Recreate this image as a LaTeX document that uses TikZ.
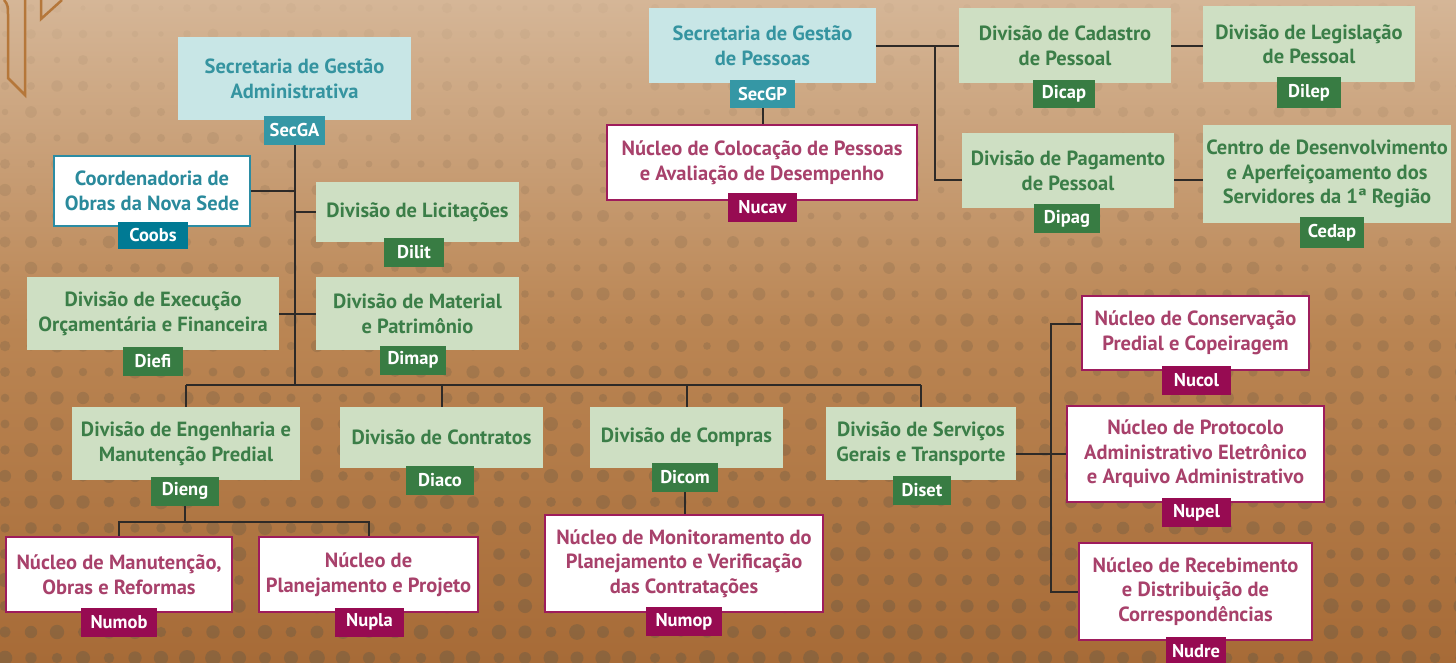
\documentclass[tikz,border=0pt]{standalone}
\usepackage{fontspec}
\setmainfont{PT Sans}
\definecolor{cyanF}{HTML}{C8E6E6}
\definecolor{cyanT}{HTML}{3594A0}
\definecolor{cyanTag}{HTML}{3597A5}
\definecolor{greenF}{HTML}{CEDFC3}
\definecolor{greenT}{HTML}{3B7E48}
\definecolor{greenTag}{HTML}{387C43}
\definecolor{magB}{HTML}{9E1C5C}
\definecolor{magT}{HTML}{A8416B}
\definecolor{magTag}{HTML}{970B52}
\definecolor{tealB}{HTML}{2B8CA3}
\definecolor{tealT}{HTML}{2A8A9C}
\definecolor{tealTag}{HTML}{007A94}
\definecolor{lineC}{HTML}{2E2A27}
\definecolor{decoC}{HTML}{B5773A}
\definecolor{dotC}{HTML}{6E5C44}
\definecolor{bgA}{HTML}{EDE4DA}
\definecolor{bgB}{HTML}{D5B697}
\definecolor{bgC}{HTML}{BA8553}
\definecolor{bgD}{HTML}{A76B37}
\definecolor{bgE}{HTML}{9E622F}
\pgfdeclareverticalshading{bgshade}{100bp}{color(0bp)=(bgE); color(25bp)=(bgD); color(50bp)=(bgC); color(75bp)=(bgB); color(100bp)=(bgA)}
\pgfdeclarelayer{bglayer}
\pgfdeclarelayer{lineslayer}
\pgfsetlayers{bglayer,lineslayer,main}
\newcommand\boxfont{\bfseries\fontsize{20.5}{24.5}\selectfont}
\newcommand\tagfont{\bfseries\fontsize{18.5}{20}\selectfont}
\tikzset{
  box/.style={inner sep=0pt, align=center, font=\boxfont},
  cyanbox/.style={box, fill=cyanF, text=cyanT},
  greenbox/.style={box, fill=greenF, text=greenT},
  nucbox/.style={box, fill=white, draw=magB, line width=2pt, text=magT},
  coobsbox/.style={box, fill=white, draw=tealB, line width=2pt, text=tealT},
  tag/.style={inner sep=0pt, minimum height=29pt, text=white, font=\tagfont},
  cyantag/.style={tag, fill=cyanTag},
  greentag/.style={tag, fill=greenTag},
  magtag/.style={tag, fill=magTag},
  tealtag/.style={tag, fill=tealTag},
  conn/.style={draw=lineC, line width=2pt},
  deco/.style={draw=decoC, line width=2.5pt}
}
\begin{document}
\begin{tikzpicture}[x=1pt,y=1pt]
\useasboundingbox (0,0) rectangle (1456,-662);
\clip (0,0) rectangle (1456,-662);
\begin{pgfonlayer}{bglayer}
\shade[shading=bgshade] (0,0) rectangle (1456,-662);
\pgfmathsetseed{7}
\foreach \i in {0,...,56}{\foreach \j in {0,...,25}{
  \pgfmathsetmacro\r{2.5+3*rnd+2.5*\j/25}
  \pgfmathsetmacro\op{0.04+0.42*\j/25}
  \fill[dotC, opacity=\op] (\i*26+5, -\j*26-8) circle (\r);
}}
\end{pgfonlayer}
% decoration
\draw[deco] (4,0) .. controls (8,-4) and (8,-8) .. (8,-14) -- (8,-78) -- (25,-95) -- (25,0);
\draw[deco] (41,0) -- (41,-19) -- (62,0);

% Administrative side
\node[cyanbox, minimum width=233pt, minimum height=83pt] (secga) at (294.5,-78.5) {Secretaria de Gestão\\Administrativa};
\node[cyantag, minimum width=61pt] (secgaT) at (294.5,-130.5) {SecGA};
\node[coobsbox, minimum width=196pt, minimum height=70pt] (coobs) at (152,-191) {Coordenadoria de\\Obras da Nova Sede};
\node[tealtag, minimum width=70pt, minimum height=27pt] (coobsT) at (153,-235.5) {Coobs};
\node[greenbox, minimum width=203pt, minimum height=60pt] (dilit) at (417.5,-212) {Divisão de Licitações};
\node[greentag, minimum width=60pt] (dilitT) at (414,-252) {Dilit};
\node[greenbox, minimum width=252pt, minimum height=73pt] (diefi) at (153,-313.5) {Divisão de Execução\\Orçamentária e Financeira};
\node[greentag, minimum width=60pt] (diefiT) at (153,-361) {Diefi};
\node[greenbox, minimum width=203pt, minimum height=73pt] (dimap) at (417.5,-313.5) {Divisão de Material\\e Patrimônio};
\node[greentag, minimum width=66pt] (dimapT) at (413,-360) {Dimap};

\node[greenbox, minimum width=228pt, minimum height=73pt] (dieng) at (186,-443.5) {Divisão de Engenharia e\\Manutenção Predial};
\node[greentag, minimum width=68pt] (diengT) at (185,-491) {Dieng};
\node[greenbox, minimum width=203pt, minimum height=61pt] (diaco) at (441.5,-437.5) {Divisão de Contratos};
\node[greentag, minimum width=68pt] (diacoT) at (440,-480) {Diaco};
\node[greenbox, minimum width=193pt, minimum height=61pt] (dicom) at (686.5,-437.5) {Divisão de Compras};
\node[greentag, minimum width=66pt] (dicomT) at (685,-477) {Dicom};
\node[greenbox, minimum width=190pt, minimum height=73pt] (diset) at (921,-443.5) {Divisão de Serviços\\Gerais e Transporte};
\node[greentag, minimum width=58pt] (disetT) at (922,-490) {Diset};

\node[nucbox, minimum width=226pt, minimum height=75pt] (numob) at (119,-574.5) {Núcleo de Manutenção,\\Obras e Reformas};
\node[magtag, minimum width=76pt] (numobT) at (119,-622) {Numob};
\node[nucbox, minimum width=219pt, minimum height=75pt] (nupla) at (368.5,-574.5) {Núcleo de\\Planejamento e Projeto};
\node[magtag, minimum width=69pt] (nuplaT) at (369.5,-622) {Nupla};
\node[nucbox, minimum width=278pt, minimum height=97pt] (numop) at (684,-563.5) {Núcleo de Monitoramento do\\Planejamento e Verificação\\das Contratações};
\node[magtag, minimum width=76pt] (numopT) at (684,-621.5) {Numop};

\node[nucbox, minimum width=227pt, minimum height=74pt] (nucol) at (1195.5,-333) {Núcleo de Conservação\\Predial e Copeiragem};
\node[magtag, minimum width=69pt] (nucolT) at (1196.5,-380.5) {Nucol};
\node[nucbox, minimum width=257pt, minimum height=96pt] (nupel) at (1195.5,-454) {Núcleo de Protocolo\\Administrativo Eletrônico\\e Arquivo Administrativo};
\node[magtag, minimum width=69pt] (nupelT) at (1196.5,-512.5) {Nupel};
\node[nucbox, minimum width=233pt, minimum height=97pt] (nudre) at (1195.5,-591.5) {Núcleo de Recebimento\\e Distribuição de\\Correspondências};
\node[magtag, minimum width=60pt] (nudreT) at (1196,-651) {Nudre};

% People side
\node[cyanbox, minimum width=227pt, minimum height=75pt] (secgp) at (762.5,-45.5) {Secretaria de Gestão\\de Pessoas};
\node[cyantag, minimum width=65pt, minimum height=28pt] (secgpT) at (762.5,-94) {SecGP};
\node[nucbox, minimum width=310pt, minimum height=75pt] (nucav) at (762,-162.5) {Núcleo de Colocação de Pessoas\\e Avaliação de Desempenho};
\node[magtag, minimum width=69pt] (nucavT) at (762.5,-207) {Nucav};
\node[greenbox, minimum width=212pt, minimum height=75pt] (dicap) at (1065,-45.5) {Divisão de Cadastro\\de Pessoal};
\node[greentag, minimum width=62pt, minimum height=28pt] (dicapT) at (1064,-94) {Dicap};
\node[greenbox, minimum width=212pt, minimum height=76pt] (dilep) at (1309,-44) {Divisão de Legislação\\de Pessoal};
\node[greentag, minimum width=64pt, minimum height=31pt] (dilepT) at (1309,-92.5) {Dilep};
\node[greenbox, minimum width=212pt, minimum height=75pt] (dipag) at (1068,-170.5) {Divisão de Pagamento\\de Pessoal};
\node[greentag, minimum width=66pt] (dipagT) at (1067,-218.5) {Dipag};
\node[greenbox, minimum width=248pt, minimum height=98pt] (cedap) at (1327,-174) {Centro de Desenvolvimento\\e Aperfeiçoamento dos\\Servidores da 1ª Região};
\node[greentag, minimum width=64pt, minimum height=31pt] (cedapT) at (1332,-232.5) {Cedap};

\coordinate (bus) at (0,-385);
\coordinate (dsub) at (0,-522);
\coordinate (rsp) at (1051,0);
\coordinate (psp) at (935,0);

\begin{pgfonlayer}{lineslayer}
\draw[conn] (secgaT.south) -- (secgaT.south |- bus);
\draw[conn] (coobs.east) -- (coobs.east -| secgaT.south);
\draw[conn] (dilit.west) -- (dilit.west -| secgaT.south);
\draw[conn] (diefi.east) -- (dimap.west);
\draw[conn] (dieng.north |- bus) -- (diset.north |- bus);
\draw[conn] (dieng.north |- bus) -- (dieng.north);
\draw[conn] (diaco.north |- bus) -- (diaco.north);
\draw[conn] (dicom.north |- bus) -- (dicom.north);
\draw[conn] (diset.north |- bus) -- (diset.north);
\draw[conn] (diengT.south) -- (diengT.south |- dsub);
\draw[conn] (numob.north) -- (numob.north |- dsub) -- (nupla.north |- dsub) -- (nupla.north);
\draw[conn] (dicomT.south) -- (dicomT.south |- numop.north);
\draw[conn] (nupel.west) -- (nupel.west -| diset.east);
\draw[conn] ([yshift=9pt]nucol.west) -- ([yshift=9pt]nucol.west -| rsp) -- (nudre.west -| rsp) -- (nudre.west);
\draw[conn] (secgpT.south) -- (secgpT.south |- nucav.north);
\draw[conn] (secgp.east) -- (dicap.west);
\draw[conn] (secgp.east -| psp) -- ([yshift=-9.5pt]dipag.west -| psp) -- ([yshift=-9.5pt]dipag.west);
\draw[conn] (dicap.east) -- (dicap.east -| dilep.west);
\draw[conn] ([yshift=-9.5pt]dipag.east) -- ([yshift=-9.5pt]dipag.east -| cedap.west);
\end{pgfonlayer}
\end{tikzpicture}
\end{document}
